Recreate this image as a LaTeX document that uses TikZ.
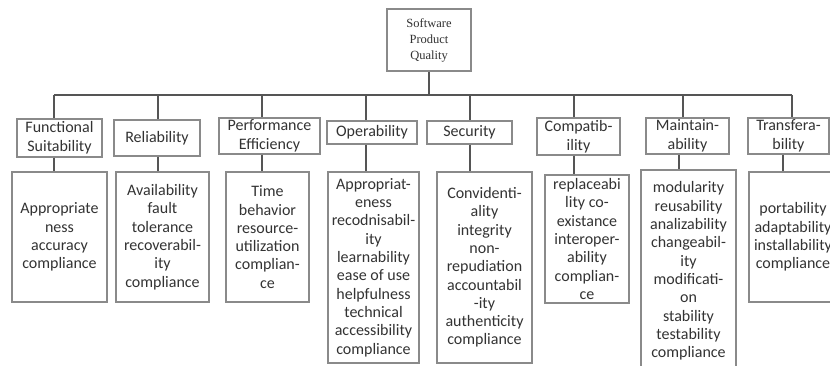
\documentclass[tikz,border=0pt]{standalone}
\usepackage{fontspec}
\setsansfont{Carlito}
\newfontfamily\rootfont{Liberation Serif}
\usetikzlibrary{positioning}
\definecolor{boxline}{HTML}{8A8A8A}
\definecolor{wire}{HTML}{555555}
\definecolor{ink}{HTML}{333333}
\tikzset{
  % the root box
  rootbox/.style={
    draw=boxline, line width=1.1pt, fill=white, align=center, text=ink,
    font=\rootfont\fontsize{12.5}{16}\selectfont, inner sep=2pt,
    minimum width=84pt, minimum height=62pt},
  % a characteristic box
  cat/.style 2 args={
    draw=boxline, line width=1.1pt, fill=white, align=center, text=ink,
    font=\sffamily\fontsize{16}{18.6}\selectfont, inner sep=1pt,
    minimum width=#1, minimum height=#2},
  % a box of sub-characteristics
  sub/.style 2 args={
    draw=boxline, line width=1.1pt, fill=white, align=center, text=ink,
    font=\sffamily\fontsize{16}{18.3}\selectfont, inner sep=1pt,
    minimum width=#1, minimum height=#2},
  link/.style={draw=wire, line width=1.6pt},
}
\begin{document}
\begin{tikzpicture}[x=1pt, y=-1pt]
  \useasboundingbox (0,0) rectangle (830,365);
  \clip (0,0) rectangle (830,365);

  % --- Root ---------------------------------------------------------------
  \node[rootbox] (root) at (429,40) {Software\\Product\\Quality};

  % --- Characteristics ----------------------------------------------------
  \node[cat={85pt}{38pt}]  (fs)  at (59.5,138)  {Functional\\Suitability};
  \node[cat={86pt}{36pt}]  (rel) at (157,138)   {Reliability};
  \node[cat={101pt}{36pt}] (pe)  at (269.5,136) {Performance\\Efficiency};
  \node[cat={90pt}{23pt}]  (op)  at (372,132.5) {Operability};
  \node[cat={85pt}{23pt}]  (sec) at (469.5,132.5) {Security};
  \node[cat={83pt}{37pt}]  (com) at (578.5,136.5) {Compatib-\\ility};
  \node[cat={83pt}{36pt}]  (mai) at (687.5,136) {Maintain-\\ability};
  \node[cat={81pt}{36pt}]  (tra) at (788.5,136) {Transfera-\\bility};

  % --- Sub-characteristics ------------------------------------------------
  \node[sub={95pt}{130pt}] (fsd)  at (59.5,237)
       {Appropriate\\ness\\accuracy\\compliance};
  \node[sub={93pt}{130pt}] (reld) at (162.5,237)
       {Availability\\fault\\tolerance\\recoverabil-\\ity\\compliance};
  \node[sub={83pt}{130pt}] (ped)  at (267.5,237)
       {Time\\behavior\\resource-\\utilization\\complian-\\ce};
  \node[sub={91pt}{191pt}] (opd)  at (373.5,267.5)
       {Appropriat-\\eness\\recodnisabil-\\ity\\learnability\\ease of use\\helpfulness\\technical\\accessibility\\compliance};
  \node[sub={95pt}{191pt}] (secd) at (484.5,267.5)
       {Convidenti-\\ality\\integrity\\non-\\repudiation\\accountabil\\-ity\\authenticity\\compliance};
  \node[sub={84pt}{128pt}] (comd) at (587,239)
       {replaceabi\\lity co-\\existance\\interoper-\\ability\\complian-\\ce};
  \node[sub={95pt}{202pt}] (maid) at (688.5,271)
       {modularity\\reusability\\analizability\\changeabil-\\ity\\modificati-\\on\\stability\\testability\\compliance};
  \node[sub={88pt}{130pt}] (trad) at (793,237)
       {portability\\adaptability\\installability\\compliance};

  % --- Bus ----------------------------------------------------------------
  \coordinate (b1) at (54,95);
  \coordinate (b2) at (158,95);
  \coordinate (b3) at (262,95);
  \coordinate (b4) at (366,95);
  \coordinate (b5) at (470,95);
  \coordinate (b6) at (574,95);
  \coordinate (b7) at (683,95);
  \coordinate (b8) at (792,95);
  \coordinate (m7) at (679,160);
  \coordinate (m8) at (783,160);

  \draw[link] (root) -- (root |- b1);
  \draw[link] (b1) -- (b8);

  \draw[link] (b1) -- (b1 |- fs.north);
  \draw[link] (b2) -- (b2 |- rel.north);
  \draw[link] (b3) -- (b3 |- pe.north);
  \draw[link] (b4) -- (b4 |- op.north);
  \draw[link] (b5) -- (b5 |- sec.north);
  \draw[link] (b6) -- (b6 |- com.north);
  \draw[link] (b7) -- (b7 |- mai.north);
  \draw[link] (b8) -- (b8 |- tra.north);

  \draw[link] (fs.south -| b1)  -- (fsd.north -| b1);
  \draw[link] (rel.south -| b2) -- (reld.north -| b2);
  \draw[link] (pe.south -| b3)  -- (ped.north -| b3);
  \draw[link] (op.south -| b4)  -- (opd.north -| b4);
  \draw[link] (sec.south -| b5) -- (secd.north -| b5);
  \draw[link] (com.south -| b6) -- (comd.north -| b6);
  \draw[link] (mai.south -| m7) -- (maid.north -| m7);
  \draw[link] (tra.south -| m8) -- (trad.north -| m8);

\end{tikzpicture}
\end{document}
